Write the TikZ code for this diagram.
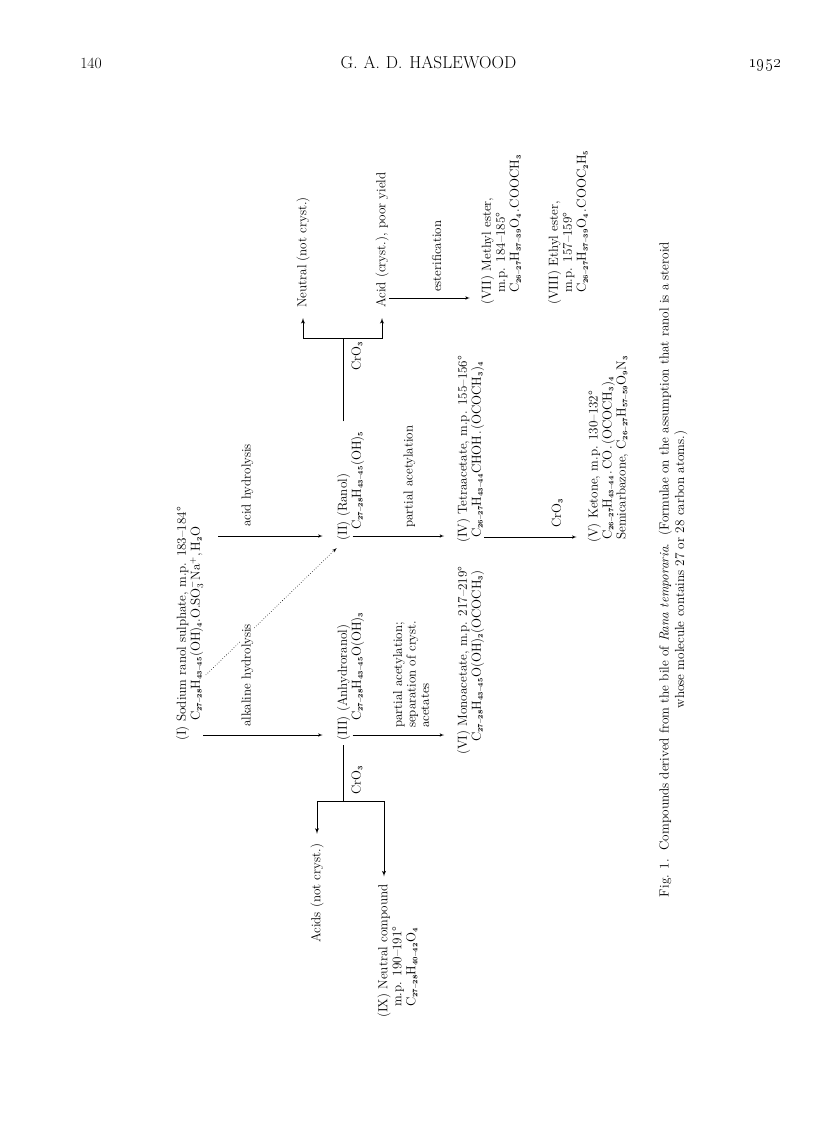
\documentclass[tikz,border=0pt]{standalone}
\usetikzlibrary{arrows, positioning}
\newcommand{\fsub}[1]{\textsubscript{\fontsize{6.8}{7}\selectfont\bfseries #1}}
\newcommand{\fdot}{\kern1.2pt.\kern1.2pt}
\tikzstyle{compound} = [rotate=90, anchor=west, align=left, inner sep=0pt,
    font=\fontsize{13.1}{14}\selectfont]
\tikzstyle{reagent} = [rotate=90, anchor=west, align=left, inner sep=0pt,
    font=\fontsize{13}{13.5}\selectfont]
\tikzstyle{line} = [draw, -latex', line width=0.6pt]
\tikzstyle{fork} = [draw, line width=0.9pt]
\tikzstyle{forkline} = [draw, -latex', line width=0.9pt]
\tikzstyle{page} = [font=\fontsize{15.6}{17}\selectfont]

\begin{document}
\begin{tikzpicture}[x=1pt, y=1pt]
        \useasboundingbox (0,0) rectangle (816,-1146);
        % Running head
        \node [page] (folio) at (91,-63) {140};
        \node [page] (head) at (428.5,-63) {\fontsize{17.3}{18}\selectfont G.\kern6pt A.\kern6pt D.\kern7pt HASLEWOOD};
        \node [page] (year) at (765,-65) {\fontsize{18.5}{19}\selectfont\oldstylenums{1952}};
        % Place nodes
        \node [compound] (i) at (189.5,-741) {(I) Sodium ranol sulphate, m.p. 183--184°\\
            \hspace*{20pt}C\fsub{27--28}H\fsub{43--45}(OH)\fsub{4}.O.SO$_3^-$Na$^+$,\kern2pt H\fsub{2}O};
        \node [right=161pt of i.west, compound] (iii) {(III) (Anhydroranol)\\
            \hspace*{20pt}C\fsub{27--28}H\fsub{43--45}O(OH)\fsub{3}};
        \node [above=200pt of iii.west, compound] (ii) {(II) (Ranol)\\
            \hspace*{11pt}C\fsub{27--28}H\fsub{43--45}(OH)\fsub{5}};
        \node [below right=2pt and 120pt of ii.west, compound] (iv) {(IV) Tetraacetate, m.p. 155--156°\\
            \hspace*{5pt}C\fsub{26--27}H\fsub{43--44}CHOH\fdot(OCOCH\fsub{3})\fsub{4}};
        \node [below=212pt of iv.west, compound] (vi) {(VI) Monoacetate, m.p. 217--219°\\
            \hspace*{13pt}C\fsub{27--28}H\fsub{43--45}O(OH)\fsub{2}(OCOCH\fsub{3})};
        \node [right=137.5pt of iv.west, compound] (v) {(V) Ketone, m.p. 130--132°\\
            \hspace*{3pt}C\fsub{26--27}H\fsub{43--44}\fdot CO\fdot(OCOCH\fsub{3})\fsub{4}\\
            \hspace*{3pt}Semicarbazone, C\fsub{26--27}H\fsub{57--59}O\fsub{9}N\fsub{3}};
        \node [above right=238pt and 30.5pt of iv.west, compound] (vii) {(VII) Methyl ester,\\
            \hspace*{12pt}m.p. 184--185°\\
            \hspace*{12pt}C\fsub{26--27}H\fsub{37--39}O\fsub{4}\fdot COOCH\fsub{3}};
        \node [right=67pt of vii.west, compound] (viii) {(VIII) Ethyl ester,\\
            \hspace*{12pt}m.p. 157--159°\\
            \hspace*{12pt}C\fsub{26--27}H\fsub{37--39}O\fsub{4}\fdot COOC\fsub{2}H\fsub{5}};
        \node [below left=3pt and 119pt of vii.west, compound] (acid) {Acid (cryst.), poor yield};
        \node [left=79pt of acid.west, compound] (neutral) {Neutral (not cryst.)};
        \node [below left=202pt and 33.5pt of iii.west, compound] (acids) {Acids (not cryst.)};
        \node [below right=277pt and 47pt of iii.west, compound] (ix) {(IX) Neutral compound\\
            \hspace*{11pt}m.p. 190--191°\\
            \hspace*{11pt}C\fsub{27--28}H\fsub{40--42}O\fsub{4}};
        \node [rotate=90, align=center, font=\fontsize{13.2}{15.5}\selectfont] (caption) at (673,-569.5)
            {Fig. 1.\ \ Compounds derived from the bile of \textit{Rana temporaria}.\ \ (Formulae on the assumption that ranol is a steroid\\
             whose molecule contains 27 or 28 carbon atoms.)};
        % Fork points
        \coordinate (iifork) at ([xshift=-7.5pt,yshift=203pt]ii.west);
        \coordinate (iiifork) at ([xshift=-7.5pt,yshift=-60pt]iii.west);
        % Draw edges
        \path [line,dotted] ([xshift=2.5pt,yshift=66pt]i.south west) -- ([yshift=-7pt]ii.north west);
        \path [line] ([yshift=6pt]i.south west) -- node [yshift=7pt, pos=.37, reagent, fill=white, inner sep=1pt] {alkaline hydrolysis} ([xshift=-14pt,yshift=6pt]iii.north west);
        \path [line] ([xshift=15pt,yshift=5pt]i.south |- ii.west) -- node [yshift=9pt, pos=.28, reagent] {acid hydrolysis} ([xshift=-14pt,yshift=5pt]ii.north west);
        \path [line] ([xshift=2pt,yshift=6pt]iii.west) -- node [yshift=7pt, pos=.64, reagent] {partial acetylation;\\separation of cryst.\\acetates} ([xshift=-12.5pt,yshift=20pt]vi.north west);
        \path [line] ([xshift=2pt,yshift=5pt]ii.west) -- node [yshift=8pt, pos=.62, reagent] {partial acetylation} ([xshift=-12.5pt,yshift=7pt]iv.north west);
        \path [line] ([yshift=6pt]iv.south west) -- node [yshift=9pt, pos=.79, reagent] {CrO\fsub{3}} ([xshift=-11pt,yshift=6pt]v.north west);
        \path [line] ([yshift=10pt]acid.south west) -- node [yshift=6pt, pos=.59, reagent] {esterification} ([xshift=-11pt,yshift=7pt]vii.north west);
        \path [fork] ([xshift=-7.5pt,yshift=10pt]ii.east) -- node [xshift=14pt, pos=.78, reagent, anchor=center] {CrO\fsub{3}} (iifork);
        \path [forkline] (iifork) -| ([yshift=-10pt]neutral.west);
        \path [forkline] (iifork) -| ([yshift=-10pt]acid.west);
        \path [fork] ([xshift=-7.5pt,yshift=-4pt]iii.west) -- node [xshift=14pt, pos=.62, reagent, anchor=center] {CrO\fsub{3}} (iiifork);
        \path [forkline] (iiifork) -| ([yshift=10pt]acids.east);
        \path [forkline] (iiifork) -| ([xshift=-13.5pt,yshift=8pt]ix.east);
    \end{tikzpicture}
\end{document}
